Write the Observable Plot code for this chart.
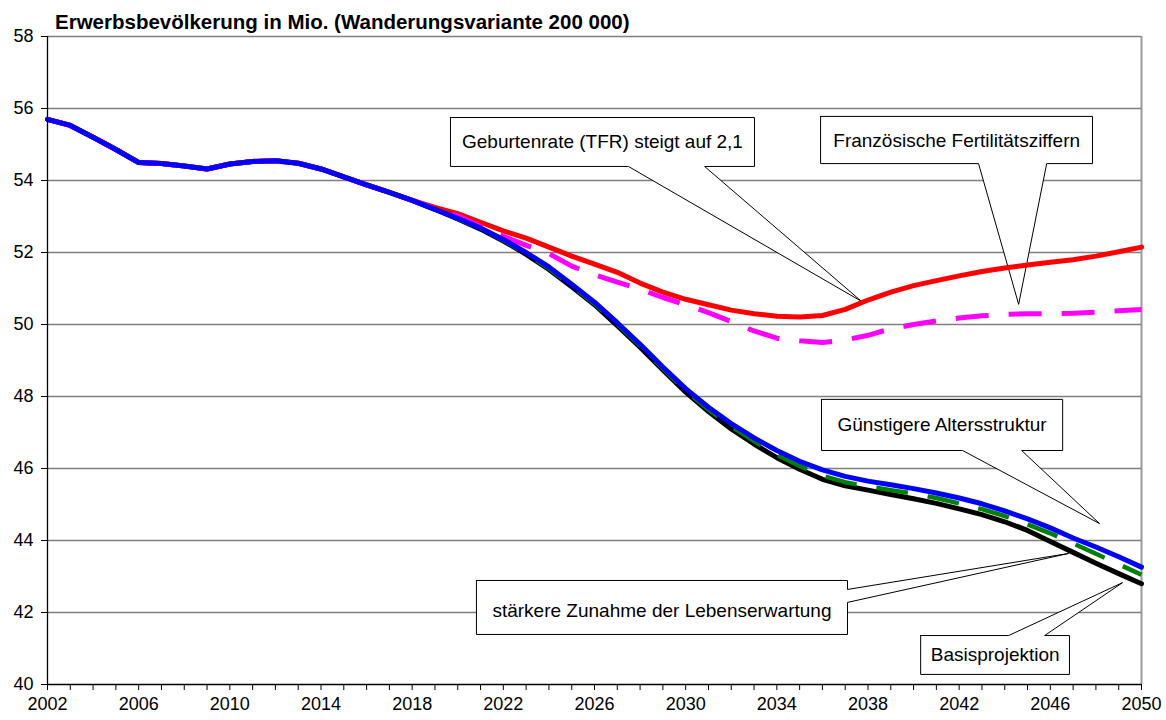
<!DOCTYPE html>
<html><head><meta charset="utf-8">
<script src="https://cdn.jsdelivr.net/npm/d3@7"></script>
<script src="https://cdn.jsdelivr.net/npm/@observablehq/plot@0.6"></script>
<style>
body{margin:0;background:#fff;}
#wrap{position:relative;width:1166px;height:720px;}
#title{position:absolute;left:55px;top:11.5px;font:bold 20.5px "Liberation Sans",Arial,sans-serif;line-height:20.5px;white-space:nowrap;color:#000;}
</style></head><body><div id="wrap"><div id="title">Erwerbsbevölkerung in Mio. (Wanderungsvariante 200 000)</div></div>
<script>
// ---- data (Mio.), years 2002..2050 ----
const years = [2002,2003,2004,2005,2006,2007,2008,2009,2010,2011,2012,2013,2014,2015,2016,2017,2018,2019,2020,2021,2022,2023,2024,2025,2026,2027,2028,2029,2030,2031,2032,2033,2034,2035,2036,2037,2038,2039,2040,2041,2042,2043,2044,2045,2046,2047,2048,2049,2050];

const basisprojektion = [55.70,55.53,55.20,54.86,54.50,54.47,54.40,54.32,54.46,54.53,54.55,54.48,54.32,54.10,53.88,53.67,53.45,
  53.20,52.93,52.65,52.32,51.95,51.53,51.05,50.55,49.97,49.37,48.74,48.12,47.58,47.10,46.68,46.30,45.98,45.70,45.52,45.40,45.28,45.16,45.03,44.88,44.72,44.52,44.28,43.97,43.67,43.37,43.08,42.80];

const altersstruktur = [55.70,55.53,55.20,54.86,54.50,54.47,54.40,54.32,54.46,54.53,54.55,54.48,54.32,54.10,53.88,53.67,53.45,
  53.20,52.95,52.68,52.36,52.00,51.60,51.12,50.62,50.05,49.45,48.82,48.22,47.70,47.25,46.85,46.50,46.20,45.96,45.78,45.65,45.55,45.44,45.32,45.18,45.02,44.82,44.60,44.35,44.07,43.82,43.55,43.26];

const lebenserwartung = [55.70,55.53,55.20,54.86,54.50,54.47,54.40,54.32,54.46,54.53,54.55,54.48,54.32,54.10,53.88,53.67,53.45,
  53.20,52.94,52.66,52.34,51.97,51.56,51.08,50.58,50.01,49.41,48.78,48.17,47.64,47.17,46.76,46.38,46.07,45.80,45.62,45.50,45.40,45.30,45.18,45.03,44.87,44.68,44.45,44.20,43.92,43.63,43.34,43.05];

const geburtenrate = [55.70,55.53,55.20,54.86,54.50,54.47,54.40,54.32,54.46,54.53,54.55,54.48,54.32,54.10,53.88,53.67,53.45,
  53.25,53.08,52.84,52.60,52.40,52.15,51.90,51.68,51.45,51.15,50.90,50.70,50.55,50.40,50.30,50.23,50.21,50.25,50.42,50.68,50.90,51.08,51.22,51.35,51.47,51.57,51.65,51.73,51.80,51.90,52.02,52.15];

const franzoesisch = [55.70,55.53,55.20,54.86,54.50,54.47,54.40,54.32,54.46,54.53,54.55,54.48,54.32,54.10,53.88,53.67,53.45,
  53.22,53.02,52.72,52.45,52.20,51.97,51.62,51.38,51.18,50.98,50.75,50.55,50.33,50.08,49.82,49.62,49.55,49.50,49.57,49.70,49.88,50.00,50.10,50.18,50.24,50.28,50.30,50.30,50.31,50.34,50.38,50.42];

const yTicks = [40,42,44,46,48,50,52,54,56,58];
const xTicks = years;
const xLabels = [2002,2006,2010,2014,2018,2022,2026,2030,2034,2038,2042,2046,2050];
const titleText = "Erwerbsbevölkerung in Mio. (Wanderungsvariante 200 000)";

// ---- callout annotations (data coordinates) ----
const calloutLabels = ["Geburtenrate (TFR) steigt auf 2,1","Französische Fertilitätsziffern","Günstigere Altersstruktur","Basisprojektion","stärkere Zunahme der Lebenserwartung"];
const callouts = [
  {label: calloutLabels[0], x0:2019.68, x1:2033.02, yt:55.75, yb:54.39, side:"bottom", a:2027.49, b:2030.83, tx:2037.72, ty:50.64, cx:2026.35, cy:55.07},
  {label: calloutLabels[1], x0:2035.92, x1:2047.85, yt:55.78, yb:54.47, side:"bottom", a:2042.85, b:2045.84, tx:2044.61, ty:50.56, cx:2041.89, cy:55.11},
  {label: calloutLabels[2], x0:2035.96, x1:2046.54, yt:47.92, yb:46.50, side:"bottom", a:2042.15, b:2044.74, tx:2048.16, ty:44.47, cx:2041.25, cy:47.21},
  {label: calloutLabels[3], x0:2040.31, x1:2046.84, yt:41.36, yb:40.28, side:"top", a:2044.17, b:2045.75, tx:2049.17, ty:42.83, cx:2043.58, cy:40.82},
  {label: calloutLabels[4], x0:2020.82, x1:2037.10, yt:42.89, yb:41.39, side:"right", a:42.64, b:42.28, tx:2046.80, ty:43.64, cx:2028.96, cy:42.05}
];
function outline(c, i) {
  let p;
  if (c.side === "bottom") p = [[c.x0,c.yt],[c.x1,c.yt],[c.x1,c.yb],[c.b,c.yb],[c.tx,c.ty],[c.a,c.yb],[c.x0,c.yb],[c.x0,c.yt]];
  else if (c.side === "top") p = [[c.x0,c.yt],[c.a,c.yt],[c.tx,c.ty],[c.b,c.yt],[c.x1,c.yt],[c.x1,c.yb],[c.x0,c.yb],[c.x0,c.yt]];
  else p = [[c.x0,c.yt],[c.x1,c.yt],[c.x1,c.a],[c.tx,c.ty],[c.x1,c.b],[c.x1,c.yb],[c.x0,c.yb],[c.x0,c.yt]];
  return p.map(([x,y]) => ({id:i, x, y}));
}
const calloutPts = callouts.flatMap(outline);

const series = [
  {name:"Basisprojektion", values: basisprojektion, stroke:"#000000", width:5, dash:null},
  {name:"stärkere Zunahme der Lebenserwartung", values: lebenserwartung, stroke:"#008000", width:4.5, dash:"32,20"},
  {name:"Geburtenrate (TFR) steigt auf 2,1", values: geburtenrate, stroke:"#ff0000", width:5, dash:null},
  {name:"Französische Fertilitätsziffern", values: franzoesisch, stroke:"#ff00ff", width:5, dash:"33,20"},
  {name:"Günstigere Altersstruktur", values: altersstruktur, stroke:"#0000ff", width:5, dash:null}
];
const lineMarks = series.map(s => Plot.line(years.map((yr,i)=>({year:yr, value:s.values[i]})), {
  x:"year", y:"value", stroke:s.stroke, strokeWidth:s.width, strokeDasharray:s.dash,
  strokeLinecap: s.dash ? "butt" : "round", strokeLinejoin:"round"
}));

const chart = Plot.plot({
  width:1166, height:720,
  marginLeft:47, marginRight:25, marginTop:36, marginBottom:36,
  x:{domain:[2002,2050], label:null},
  y:{domain:[40,58], label:null},
  style:{fontFamily:'"Liberation Sans", Arial, sans-serif', fontSize:"18px", color:"#000", background:"#fff"},
  marks:[
    Plot.ruleY(yTicks.filter(d=>d>40), {stroke:"#7f7f7f", strokeWidth:1.3}),
    Plot.ruleX([2050], {stroke:"#9a9a9a", strokeWidth:2}),
    Plot.line(calloutPts, {x:"x", y:"y", z:"id", fill:"#fff", stroke:"#000", strokeWidth:1, curve:"linear", strokeLinejoin:"miter"}),
    Plot.text(callouts, {x:"cx", y:"cy", text:"label", fontSize:19, textAnchor:"middle", lineAnchor:"middle", fill:"#000"}),
    ...lineMarks,
    Plot.ruleX([2002], {stroke:"#000", strokeWidth:1.3}),
    Plot.ruleY([40], {stroke:"#000", strokeWidth:1.3}),
    Plot.axisY(yTicks, {tickSize:6, tickPadding:8, tickFormat:d=>String(d), fontSize:18}),
    Plot.axisX(xTicks, {tickSize:6, tickPadding:7, tickFormat:d=> xLabels.includes(d) ? String(d) : "", fontSize:18})
  ]
});
document.getElementById("wrap").prepend(chart);
chart.style.position = "absolute"; chart.style.left = "0"; chart.style.top = "0";
</script></body></html>
